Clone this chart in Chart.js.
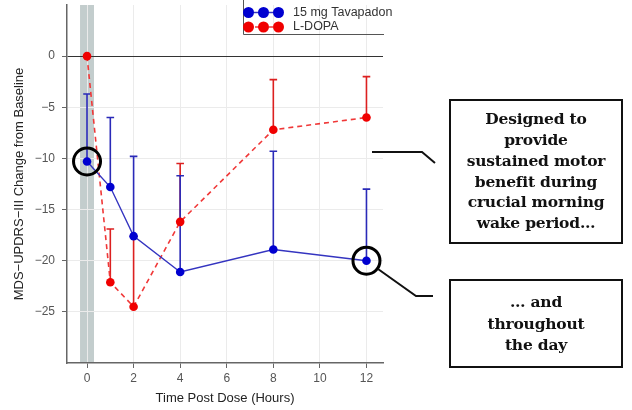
<!DOCTYPE html>
<html>
<head>
<meta charset="utf-8">
<script src="https://cdn.jsdelivr.net/npm/chart.js@4"></script>
<style>
    html, body { margin: 0; padding: 0; background: #fff; }
    #wrap { position: relative; width: 632px; height: 410px; overflow: hidden; }
    #chart { position: absolute; left: 0; top: 0; }
    .note {
        position: absolute; box-sizing: border-box; border: 2px solid #111;
        display: flex; align-items: center; justify-content: center; text-align: center;
        font-family: "DejaVu Serif", serif; font-weight: bold; font-size: 15.5px; color: #111;
        letter-spacing: -0.2px;
    }
    #links { position: absolute; left: 0; top: 0; pointer-events: none; }
</style>
</head>
<body>
<div id="wrap">
    <canvas id="chart" width="632" height="410"></canvas>
    <svg id="links" width="632" height="410">
        <polyline points="372,152 422,152 435,163" fill="none" stroke="#111" stroke-width="2"/>
        <polyline points="378,269 416,296 433,296" fill="none" stroke="#111" stroke-width="2"/>
    </svg>
    <div class="note" style="left:449px; top:99px; width:174px; height:145px; line-height:20.7px;">
        <div>Designed to<br>provide<br>sustained motor<br>benefit during<br>crucial morning<br>wake period…</div>
    </div>
    <div class="note" style="left:449px; top:279px; width:174px; height:89px; line-height:21.5px;">
        <div>… and<br>throughout<br>the day</div>
    </div>
</div>
<script>
const hours = [0, 1, 2, 4, 8, 12];
const tavaMean = [-10.3, -12.8, -17.6, -21.1, -18.9, -20.0];
const tavaUpper = [-3.7, -6.0, -9.8, -11.7, -9.3, -13.0];
const ldopaMean = [0, -22.1, -24.5, -16.2, -7.2, -6.0];
const ldopaUpper = [null, -16.9, -17.6, -10.5, -2.3, -2.0];
const seriesLabels = ['15 mg Tavapadon', 'L-DOPA'];
const xTicks = [0, 2, 4, 6, 8, 10, 12];
const yTicks = [0, -5, -10, -15, -20, -25];
const doseBand = [-0.3, 0.3];
const ringedPoints = [0, 5]; // indices of tavapadon points circled

const blue = '#0000d0';
const blueLine = '#3434c0';
const red = '#f00000';
const redLine = '#f03838';

const toXY = (ys) => hours.map((h, i) => ({ x: h, y: ys[i] }));

// grey shaded dosing band, under the grid
const bandPlugin = {
    id: 'band',
    beforeDraw(chart) {
        const { ctx, chartArea: a, scales: { x } } = chart;
        ctx.save();
        ctx.fillStyle = '#c3cdcd';
        const x0 = x.getPixelForValue(doseBand[0]);
        const x1 = x.getPixelForValue(doseBand[1]);
        ctx.fillRect(x0, a.top, x1 - x0, a.bottom - a.top);
        ctx.restore();
    }
};

function drawBars(chart, means, uppers, color) {
    const { ctx, scales: { x, y } } = chart;
    ctx.save();
    ctx.strokeStyle = color;
    ctx.lineWidth = 1.6;
    hours.forEach((h, i) => {
        if (uppers[i] === null) return;
        const px = x.getPixelForValue(h);
        const py0 = y.getPixelForValue(means[i]);
        const py1 = y.getPixelForValue(uppers[i]);
        ctx.beginPath();
        ctx.moveTo(px, py0);
        ctx.lineTo(px, py1);
        ctx.moveTo(px - 3.8, py1);
        ctx.lineTo(px + 3.8, py1);
        ctx.stroke();
    });
    ctx.restore();
}

const errorBarPlugin = {
    id: 'errorBars',
    beforeDatasetsDraw(chart) {
        drawBars(chart, ldopaMean, ldopaUpper, '#dc2020');
        drawBars(chart, tavaMean, tavaUpper, '#2a2ab8');
    }
};

const overlayPlugin = {
    id: 'overlay',
    afterDraw(chart) {
        const { ctx, scales: { x, y } } = chart;
        ctx.save();
        // black rings round highlighted points
        ctx.strokeStyle = '#000';
        ctx.lineWidth = 3;
        ringedPoints.forEach(i => {
            ctx.beginPath();
            ctx.arc(x.getPixelForValue(hours[i]), y.getPixelForValue(tavaMean[i]), 13.5, 0, Math.PI * 2);
            ctx.stroke();
        });
        // legend
        ctx.lineWidth = 1;
        ctx.strokeStyle = '#555';
        ctx.beginPath();
        ctx.moveTo(243.5, 0);
        ctx.lineTo(243.5, 34.5);
        ctx.lineTo(384, 34.5);
        ctx.stroke();
        const rows = [
            { label: seriesLabels[0], color: blue, line: blueLine, dash: [], y: 12.5 },
            { label: seriesLabels[1], color: red, line: redLine, dash: [4, 3], y: 27 }
        ];
        rows.forEach(r => {
            ctx.strokeStyle = r.line;
            ctx.lineWidth = 1.5;
            ctx.setLineDash(r.dash);
            ctx.beginPath();
            ctx.moveTo(248, r.y);
            ctx.lineTo(279, r.y);
            ctx.stroke();
            ctx.setLineDash([]);
            ctx.fillStyle = r.color;
            [248.5, 263.5, 278.5].forEach(cx => {
                ctx.beginPath();
                ctx.arc(cx, r.y, 5.5, 0, Math.PI * 2);
                ctx.fill();
            });
            ctx.fillStyle = '#333';
            ctx.font = '12.5px "Liberation Sans", Arial, sans-serif';
            ctx.textBaseline = 'middle';
            ctx.fillText(r.label, 293, r.y);
        });
        ctx.restore();
    }
};

new Chart(document.getElementById('chart').getContext('2d'), {
    type: 'line',
    data: {
        datasets: [
            {
                label: seriesLabels[1],
                data: toXY(ldopaMean),
                borderColor: redLine,
                borderWidth: 1.6,
                borderDash: [5, 4],
                backgroundColor: red,
                pointBackgroundColor: red,
                pointBorderWidth: 0,
                pointRadius: 4.3,
                tension: 0,
                order: 2
            },
            {
                label: seriesLabels[0],
                data: toXY(tavaMean),
                borderColor: blueLine,
                borderWidth: 1.4,
                backgroundColor: blue,
                pointBackgroundColor: blue,
                pointBorderWidth: 0,
                pointRadius: 4.3,
                tension: 0,
                order: 1
            }
        ]
    },
    options: {
        responsive: false,
        animation: false,
        layout: { padding: { top: 5, right: 632 - 383, bottom: 0, left: 0 } },
        plugins: { legend: { display: false }, tooltip: { enabled: false } },
        scales: {
            x: {
                type: 'linear',
                min: -0.86,
                max: 12.71,
                afterBuildTicks: (s) => { s.ticks = xTicks.map(v => ({ value: v })); },
                afterFit: (s) => { s.height = 47; s.paddingLeft = 0; s.paddingRight = 0; },
                grid: { color: '#ebebeb', lineWidth: 1, tickLength: 5, tickColor: '#666' },
                border: { color: '#666', width: 1.5 },
                ticks: { color: '#555', font: { family: '"Liberation Sans", Arial, sans-serif', size: 12 }, padding: 3 },
                title: {
                    display: true, text: 'Time Post Dose (Hours)', color: '#222',
                    font: { family: '"Liberation Sans", Arial, sans-serif', size: 13 },
                    padding: { top: 0, bottom: 4 }
                }
            },
            y: {
                type: 'linear',
                min: -30,
                max: 5,
                afterBuildTicks: (s) => { s.ticks = yTicks.map(v => ({ value: v })); },
                afterFit: (s) => { s.width = 67; s.paddingTop = 0; s.paddingBottom = 0; },
                grid: {
                    color: (c) => (c.tick && c.tick.value === 0 ? '#333' : '#ebebeb'),
                    lineWidth: 1, tickLength: 5, tickColor: '#666'
                },
                border: { color: '#666', width: 1.5 },
                ticks: {
                    color: '#555', font: { family: '"Liberation Sans", Arial, sans-serif', size: 12 }, padding: 7,
                    callback: (v) => String(v).replace('-', '\u2212')
                },
                title: {
                    display: true, text: 'MDS\u2212UPDRS\u2212III Change from Baseline', color: '#222',
                    font: { family: '"Liberation Sans", Arial, sans-serif', size: 13 },
                    padding: { top: 12, bottom: 0 }
                }
            }
        }
    },
    plugins: [bandPlugin, errorBarPlugin, overlayPlugin]
});
</script>
</body>
</html>
